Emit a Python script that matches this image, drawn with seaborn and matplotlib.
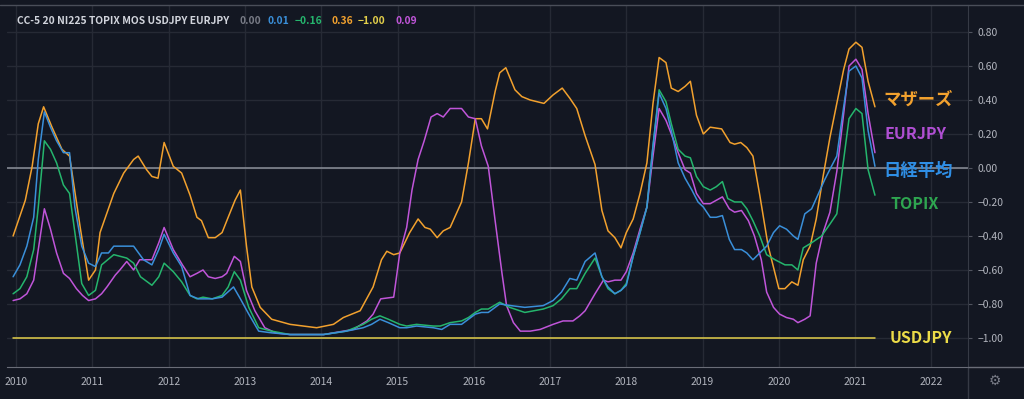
import matplotlib.pyplot as plt
import matplotlib.lines as mlines
import seaborn as sns

# correlation values (decimal year, value)
mothers_t = [2009.96, 2010.12, 2010.21, 2010.29, 2010.36, 2010.47, 2010.60, 2010.70, 2010.84, 2010.95,
             2011.04, 2011.10, 2011.28, 2011.41, 2011.54, 2011.60, 2011.71, 2011.78, 2011.86, 2011.94,
             2012.06, 2012.17, 2012.28, 2012.37, 2012.43, 2012.52, 2012.61, 2012.70, 2012.78, 2012.87,
             2012.94, 2013.02, 2013.09, 2013.20, 2013.35, 2013.59, 2013.94, 2014.16, 2014.29, 2014.51,
             2014.68, 2014.79, 2014.86, 2014.95, 2015.03, 2015.16, 2015.27, 2015.36, 2015.43, 2015.52,
             2015.60, 2015.69, 2015.84, 2015.93, 2016.02, 2016.10, 2016.18, 2016.28, 2016.34, 2016.42,
             2016.54, 2016.63, 2016.74, 2016.92, 2017.04, 2017.16, 2017.26, 2017.35, 2017.46, 2017.59,
             2017.68, 2017.76, 2017.85, 2017.93, 2018.00, 2018.09, 2018.18, 2018.27, 2018.35, 2018.43,
             2018.52, 2018.59, 2018.68, 2018.77, 2018.84, 2018.92, 2019.01, 2019.10, 2019.25, 2019.36,
             2019.42, 2019.50, 2019.58, 2019.66, 2019.75, 2019.86, 2019.95, 2020.00, 2020.08, 2020.17,
             2020.25, 2020.32, 2020.41, 2020.49, 2020.58, 2020.67, 2020.76, 2020.85, 2020.92, 2021.01,
             2021.09, 2021.17, 2021.26]
mothers_v = [-0.40, -0.19, 0.01, 0.26, 0.36, 0.24, 0.11, 0.07, -0.35, -0.66,
             -0.60, -0.38, -0.15, -0.03, 0.05, 0.07, -0.01, -0.05, -0.06, 0.15,
             0.01, -0.03, -0.16, -0.29, -0.31, -0.41, -0.41, -0.38, -0.29, -0.19,
             -0.13, -0.46, -0.70, -0.82, -0.89, -0.92, -0.94, -0.92, -0.88, -0.84,
             -0.70, -0.54, -0.49, -0.51, -0.50, -0.38, -0.30, -0.35, -0.36, -0.41,
             -0.37, -0.35, -0.20, 0.03, 0.29, 0.29, 0.23, 0.45, 0.56, 0.59,
             0.46, 0.42, 0.40, 0.38, 0.43, 0.47, 0.41, 0.35, 0.19, 0.02,
             -0.25, -0.37, -0.41, -0.47, -0.38, -0.30, -0.15, 0.03, 0.38, 0.65,
             0.62, 0.47, 0.45, 0.48, 0.51, 0.31, 0.20, 0.24, 0.23, 0.15,
             0.14, 0.15, 0.12, 0.07, -0.16, -0.46, -0.62, -0.71, -0.71, -0.67,
             -0.69, -0.54, -0.46, -0.30, -0.05, 0.18, 0.38, 0.58, 0.70, 0.74,
             0.71, 0.51, 0.36]

topix_t = [2009.96, 2010.05, 2010.14, 2010.23, 2010.29, 2010.37, 2010.45, 2010.53, 2010.62, 2010.70,
           2010.77, 2010.86, 2010.95, 2011.04, 2011.12, 2011.28, 2011.45, 2011.54, 2011.63, 2011.78,
           2011.87, 2011.94, 2012.06, 2012.17, 2012.28, 2012.37, 2012.45, 2012.57, 2012.70, 2012.78,
           2012.86, 2012.94, 2013.05, 2013.18, 2013.35, 2013.59, 2014.03, 2014.33, 2014.55, 2014.66,
           2014.77, 2014.88, 2015.03, 2015.12, 2015.25, 2015.47, 2015.56, 2015.69, 2015.84, 2015.93,
           2016.02, 2016.10, 2016.19, 2016.34, 2016.47, 2016.67, 2016.91, 2017.04, 2017.15, 2017.26,
           2017.35, 2017.46, 2017.59, 2017.68, 2017.76, 2017.85, 2017.93, 2018.00, 2018.09, 2018.18,
           2018.27, 2018.35, 2018.43, 2018.52, 2018.59, 2018.68, 2018.77, 2018.84, 2018.92, 2019.01,
           2019.10, 2019.18, 2019.26, 2019.33, 2019.42, 2019.51, 2019.58, 2019.66, 2019.75, 2019.84,
           2019.95, 2020.08, 2020.17, 2020.25, 2020.32, 2020.43, 2020.56, 2020.67, 2020.76, 2020.85,
           2020.92, 2021.01, 2021.09, 2021.17, 2021.26]
topix_v = [-0.74, -0.71, -0.64, -0.48, -0.23, 0.16, 0.11, 0.03, -0.10, -0.15,
           -0.38, -0.68, -0.75, -0.72, -0.57, -0.51, -0.53, -0.56, -0.64, -0.69,
           -0.64, -0.56, -0.61, -0.67, -0.75, -0.77, -0.76, -0.77, -0.75, -0.70,
           -0.61, -0.66, -0.82, -0.94, -0.96, -0.98, -0.98, -0.96, -0.92, -0.89,
           -0.87, -0.89, -0.92, -0.93, -0.92, -0.93, -0.93, -0.91, -0.90, -0.88,
           -0.85, -0.83, -0.83, -0.79, -0.82, -0.85, -0.83, -0.81, -0.77, -0.71,
           -0.71, -0.62, -0.53, -0.64, -0.71, -0.74, -0.72, -0.68, -0.52, -0.38,
           -0.23, 0.13, 0.46, 0.39, 0.26, 0.11, 0.07, 0.06, -0.05, -0.11,
           -0.13, -0.11, -0.08, -0.18, -0.20, -0.20, -0.24, -0.31, -0.40, -0.51,
           -0.54, -0.57, -0.57, -0.60, -0.47, -0.44, -0.40, -0.33, -0.27, 0.05,
           0.29, 0.35, 0.32, -0.01, -0.16]

nikkei_t = [2009.96, 2010.05, 2010.14, 2010.23, 2010.29, 2010.37, 2010.45, 2010.53, 2010.62, 2010.70,
            2010.77, 2010.86, 2010.95, 2011.04, 2011.12, 2011.21, 2011.28, 2011.45, 2011.54, 2011.67,
            2011.78, 2011.87, 2011.94, 2012.06, 2012.17, 2012.28, 2012.39, 2012.57, 2012.70, 2012.85,
            2012.94, 2013.05, 2013.18, 2013.35, 2013.59, 2014.03, 2014.33, 2014.55, 2014.66, 2014.77,
            2014.88, 2015.03, 2015.12, 2015.25, 2015.47, 2015.58, 2015.69, 2015.84, 2015.93, 2016.02,
            2016.10, 2016.19, 2016.34, 2016.49, 2016.67, 2016.91, 2017.04, 2017.15, 2017.26, 2017.35,
            2017.46, 2017.59, 2017.68, 2017.76, 2017.85, 2017.93, 2018.00, 2018.09, 2018.18, 2018.27,
            2018.35, 2018.43, 2018.52, 2018.59, 2018.68, 2018.77, 2018.86, 2018.94, 2019.01, 2019.10,
            2019.18, 2019.26, 2019.35, 2019.42, 2019.51, 2019.58, 2019.66, 2019.75, 2019.84, 2019.93,
            2020.01, 2020.10, 2020.19, 2020.25, 2020.34, 2020.43, 2020.52, 2020.60, 2020.69, 2020.76,
            2020.85, 2020.92, 2021.01, 2021.09, 2021.17, 2021.26]
nikkei_v = [-0.64, -0.57, -0.46, -0.29, 0.05, 0.33, 0.24, 0.16, 0.09, 0.09,
            -0.23, -0.46, -0.56, -0.58, -0.50, -0.50, -0.46, -0.46, -0.46, -0.54,
            -0.57, -0.48, -0.39, -0.50, -0.58, -0.75, -0.77, -0.77, -0.76, -0.70,
            -0.77, -0.86, -0.96, -0.97, -0.98, -0.98, -0.96, -0.94, -0.92, -0.89,
            -0.91, -0.94, -0.94, -0.93, -0.94, -0.95, -0.92, -0.92, -0.89, -0.86,
            -0.85, -0.85, -0.80, -0.81, -0.82, -0.81, -0.78, -0.73, -0.65, -0.66,
            -0.55, -0.50, -0.64, -0.70, -0.74, -0.72, -0.69, -0.52, -0.38, -0.23,
            0.13, 0.44, 0.35, 0.22, 0.03, -0.06, -0.13, -0.20, -0.23, -0.29,
            -0.29, -0.28, -0.42, -0.48, -0.48, -0.50, -0.54, -0.50, -0.46, -0.38,
            -0.34, -0.36, -0.40, -0.42, -0.27, -0.24, -0.15, -0.07, 0.01, 0.07,
            0.36, 0.57, 0.60, 0.53, 0.22, 0.01]

eurjpy_t = [2009.96, 2010.05, 2010.14, 2010.23, 2010.29, 2010.37, 2010.45, 2010.53, 2010.62, 2010.70,
            2010.79, 2010.87, 2010.95, 2011.04, 2011.12, 2011.19, 2011.30, 2011.36, 2011.45, 2011.54,
            2011.62, 2011.71, 2011.78, 2011.87, 2011.94, 2012.06, 2012.18, 2012.28, 2012.37, 2012.45,
            2012.52, 2012.61, 2012.70, 2012.76, 2012.86, 2012.94, 2013.02, 2013.13, 2013.26, 2013.40,
            2013.59, 2014.03, 2014.29, 2014.42, 2014.60, 2014.68, 2014.78, 2014.95, 2015.03, 2015.12,
            2015.19, 2015.27, 2015.35, 2015.44, 2015.52, 2015.60, 2015.69, 2015.84, 2015.93, 2016.02,
            2016.10, 2016.19, 2016.28, 2016.37, 2016.43, 2016.52, 2016.61, 2016.74, 2016.87, 2017.04,
            2017.17, 2017.30, 2017.39, 2017.46, 2017.59, 2017.70, 2017.76, 2017.85, 2017.93, 2018.00,
            2018.09, 2018.18, 2018.27, 2018.35, 2018.43, 2018.52, 2018.59, 2018.68, 2018.77, 2018.84,
            2018.92, 2019.01, 2019.10, 2019.18, 2019.26, 2019.35, 2019.42, 2019.51, 2019.60, 2019.68,
            2019.77, 2019.84, 2019.93, 2020.01, 2020.10, 2020.19, 2020.25, 2020.34, 2020.41, 2020.49,
            2020.58, 2020.67, 2020.76, 2020.85, 2020.92, 2021.01, 2021.09, 2021.17, 2021.26]
eurjpy_v = [-0.78, -0.77, -0.74, -0.66, -0.48, -0.24, -0.36, -0.50, -0.62, -0.65,
            -0.71, -0.75, -0.78, -0.77, -0.74, -0.70, -0.63, -0.60, -0.55, -0.60,
            -0.54, -0.54, -0.54, -0.44, -0.35, -0.48, -0.57, -0.64, -0.62, -0.60,
            -0.64, -0.65, -0.64, -0.62, -0.52, -0.55, -0.72, -0.84, -0.94, -0.97,
            -0.98, -0.98, -0.96, -0.95, -0.90, -0.86, -0.77, -0.76, -0.50, -0.35,
            -0.13, 0.05, 0.16, 0.30, 0.32, 0.30, 0.35, 0.35, 0.30, 0.29,
            0.13, 0.01, -0.31, -0.62, -0.81, -0.91, -0.96, -0.96, -0.95, -0.92,
            -0.90, -0.90, -0.87, -0.84, -0.74, -0.66, -0.67, -0.66, -0.66, -0.61,
            -0.50, -0.36, -0.23, 0.07, 0.35, 0.28, 0.20, 0.09, -0.01, -0.03,
            -0.15, -0.21, -0.21, -0.19, -0.17, -0.24, -0.26, -0.25, -0.31, -0.40,
            -0.54, -0.73, -0.82, -0.86, -0.88, -0.89, -0.91, -0.89, -0.87, -0.56,
            -0.38, -0.26, -0.02, 0.32, 0.60, 0.64, 0.58, 0.32, 0.09]

usdjpy_t = [2009.96, 2021.26]
usdjpy_v = [-1.00, -1.00]

years = list(range(2010, 2023))
y_ticks = [0.8, 0.6, 0.4, 0.2, 0.0, -0.2, -0.4, -0.6, -0.8, -1.0]

legend_head = 'CC-5 20 NI225 TOPIX MOS USDJPY EURJPY'
legend_vals = ['0.00', '0.01', '\u22120.16', '0.36', '\u22121.00', '0.09']

BG = '#131722'
GRID = '#262a35'
ORANGE = '#f2a12e'
GREEN = '#25b56d'
BLUE = '#3a8fd9'
PURPLE = '#c055d9'
YELLOW = '#e3cf4a'

sns.set_style('dark', rc={'axes.facecolor': BG, 'figure.facecolor': BG})
plt.rcParams['font.family'] = ['Noto Sans CJK JP', 'DejaVu Sans']

fig = plt.figure(figsize=(10.24, 3.99), dpi=100)
ax = fig.add_axes([7 / 1024, 32 / 399, 961 / 1024, 362 / 399])
ax.set_facecolor(BG)

for yv in y_ticks:
    ax.axhline(yv, color=GRID, lw=1, zorder=0)
for yr in years:
    ax.axvline(yr, color=GRID, lw=1, zorder=0)
ax.axhline(0, color='#8c909a', lw=1.1, zorder=1)

sns.lineplot(x=usdjpy_t, y=usdjpy_v, ax=ax, color=YELLOW, lw=1.1, estimator=None, sort=False)
sns.lineplot(x=mothers_t, y=mothers_v, ax=ax, color=ORANGE, lw=1.1, estimator=None, sort=False)
sns.lineplot(x=eurjpy_t, y=eurjpy_v, ax=ax, color=PURPLE, lw=1.1, estimator=None, sort=False)
sns.lineplot(x=topix_t, y=topix_v, ax=ax, color=GREEN, lw=1.1, estimator=None, sort=False)
sns.lineplot(x=nikkei_t, y=nikkei_v, ax=ax, color=BLUE, lw=1.1, estimator=None, sort=False)

ax.set_xlim(2009.88, 2022.48)
ax.set_ylim(-1.171, 0.959)
ax.set_xticks(years)
ax.set_xticklabels([str(y) for y in years])
ax.set_yticks(y_ticks)
ax.set_yticklabels([f'{v:.2f}'.replace('-', '\u2212') for v in y_ticks])
ax.yaxis.tick_right()
ax.tick_params(axis='y', colors='#b2b5be', labelsize=7.5, length=3, width=0.8, pad=4, labelcolor='#b2b5be')
ax.tick_params(axis='x', colors='#b2b5be', labelsize=7.5, length=0, pad=7)
ax.tick_params(axis='y', color='#50535e')
ax.grid(False)
for s in ['top', 'left']:
    ax.spines[s].set_visible(False)
ax.spines['right'].set_color('#363a45')
ax.spines['bottom'].set_color('#6a6d78')

# right side labels
labels = [('マザーズ', 0.40, ORANGE, 2021.37, 12.5), ('EURJPY', 0.20, '#b04fd3', 2021.38, 11.5),
          ('日経平均', -0.02, '#2f8fe6', 2021.37, 12.5), ('TOPIX', -0.21, '#2ea650', 2021.46, 11.5),
          ('USDJPY', -1.00, '#ecdc48', 2021.45, 11.5)]
for txt, yv, col, x0, fs in labels:
    ax.text(x0, yv, txt, color=col, fontsize=fs, fontweight='bold', va='center', ha='left')

# legend line at top-left
fig.text(17 / 1024, 1 - 21 / 399, legend_head, color='#d1d4dc', fontsize=7.4, fontweight='semibold', va='center')
val_cols = ['#787b86', BLUE, GREEN, ORANGE, YELLOW, PURPLE]
val_x = [240, 267, 295, 331, 358, 396]
for t, c, xp in zip(legend_vals, val_cols, val_x):
    fig.text(xp / 1024, 1 - 21 / 399, t, color=c, fontsize=7.4, fontweight='semibold', va='center')

# panel borders
fig.add_artist(mlines.Line2D([0, 1], [1 - 5 / 399, 1 - 5 / 399], color='#4a4e59', lw=1))
fig.add_artist(mlines.Line2D([968 / 1024, 968 / 1024], [0, 32 / 399], color='#363a45', lw=1))
fig.add_artist(mlines.Line2D([968 / 1024, 1], [32 / 399, 32 / 399], color='#6a6d78', lw=1))
fig.text(995 / 1024, 1 - 381 / 399, '\u2699', color='#787b86', fontsize=10, ha='center', va='center',
         family=['DejaVu Sans'])

fig.savefig('out.png', dpi=100, facecolor=BG)
